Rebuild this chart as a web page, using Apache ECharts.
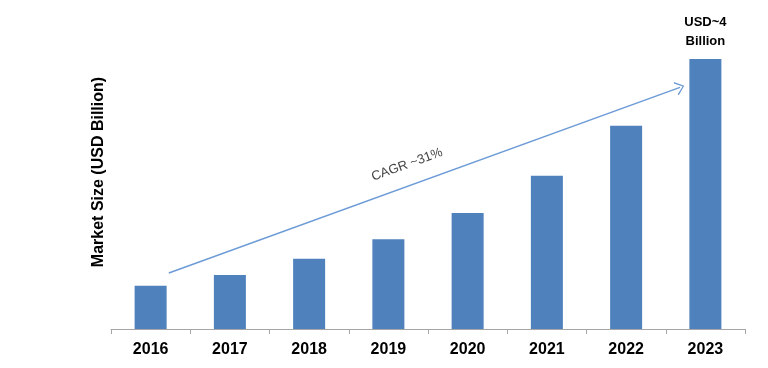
<!DOCTYPE html>
<html><head><meta charset="utf-8">
<script src="https://cdn.jsdelivr.net/npm/echarts@6/dist/echarts.min.js"></script>
<style>html,body{margin:0;padding:0;background:#fff}#c{width:768px;height:368px}</style>
</head><body><div id="c"></div>
<script>
const years = ['2016','2017','2018','2019','2020','2021','2022','2023'];
const marketSize = [0.64, 0.80, 1.04, 1.33, 1.72, 2.27, 3.01, 4.0];
const topLabel = 'USD~4\nBillion';
const cagrText = 'CAGR ~31%';
const arrowStart = [0.23, 0.83];
const arrowEnd = [6.68, 3.58];
const yName = 'Market Size (USD Billion)';

const font = '"Liberation Sans", Arial, sans-serif';
const chart = echarts.init(document.getElementById('c'), null, {renderer:'canvas'});
chart.setOption({
  animation: false,
  backgroundColor: '#fff',
  grid: {left: 111, right: 23, top: 59, bottom: 39},
  xAxis: [{
    type: 'category', data: years,
    axisLine: {lineStyle: {color: '#a6a6a6', width: 1}},
    axisTick: {show: true, length: 5, lineStyle: {color: '#a6a6a6'}},
    axisLabel: {color: '#000', fontWeight: 'bold', fontSize: 16, fontFamily: font, margin: 13}
  }, {
    type: 'value', min: -0.5, max: 7.5, show: false
  }],
  yAxis: {
    type: 'value', min: 0, max: 4,
    name: yName, nameLocation: 'middle', nameGap: 4, nameRotate: 90,
    nameTextStyle: {color: '#000', fontWeight: 'bold', fontSize: 16, fontFamily: font,
      padding: [0, 0, 0, 44]},
    axisLine: {show: false}, axisTick: {show: false}, axisLabel: {show: false},
    splitLine: {show: false}
  },
  series: [{
    type: 'bar', xAxisIndex: 0, barWidth: 32,
    itemStyle: {color: '#4f81bd'},
    data: marketSize.map((v, i) => i === marketSize.length - 1 ? {
      value: v,
      label: {show: true, position: 'top', distance: 8, formatter: topLabel,
        color: '#000', fontWeight: 'bold', fontSize: 13, lineHeight: 19, fontFamily: font}
    } : v)
  }, {
    type: 'line', xAxisIndex: 1, data: [], symbol: 'none',
    markLine: {
      silent: true,
      symbol: ['none', 'path://M0,10 L5,0 L10,10 L9,10.8 L5,2.2 L1,10.8 Z'],
      symbolSize: [14, 9],
      lineStyle: {color: '#6d9bd6', width: 1.5, type: 'solid'},
      label: {show: true, position: 'middle', formatter: cagrText, distance: 14,
        padding: [0, 22, 0, 0],
        color: '#444', fontSize: 13, fontFamily: font},
      data: [[{coord: arrowStart}, {coord: arrowEnd}]]
    }
  }]
});
</script></body></html>
